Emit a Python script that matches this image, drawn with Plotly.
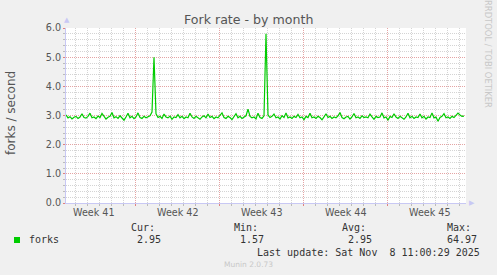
import datetime as dt
import plotly.graph_objects as go

# ---------------- data ----------------
series_name = "forks"
start_time = dt.datetime(2025, 10, 7, 5, 0)
sample_hours = 4
forks = [
    3.02, 2.92, 2.96, 2.88, 2.94, 2.97, 2.90, 2.95, 3.06, 2.93,
    2.91, 2.97, 3.08, 2.92, 2.95, 2.89, 2.98, 2.93, 3.07, 2.95,
    2.88, 2.94, 2.97, 3.10, 2.92, 2.96, 2.90, 2.99, 2.93, 2.84,
    2.95, 3.08, 2.92, 2.97, 2.89, 2.95, 3.09, 2.93, 2.90, 2.97,
    2.92, 2.95, 2.99, 3.12, 5.00, 3.06, 2.93, 2.97, 2.90, 3.05,
    2.95, 2.92, 2.98, 2.87, 2.95, 2.93, 3.03, 2.92, 2.97, 2.89,
    2.95, 2.92, 3.08, 2.95, 2.90, 2.97, 2.93, 2.87, 2.95, 2.99,
    2.92, 3.05, 2.93, 2.97, 2.89, 2.95, 2.92, 2.99, 3.09, 2.93,
    2.90, 2.97, 2.93, 2.86, 2.95, 3.06, 2.92, 2.97, 2.90, 2.95,
    2.99, 3.22, 2.97, 2.92, 2.95, 2.88, 3.08, 2.93, 2.90, 2.99,
    5.80, 3.02, 2.93, 2.97, 3.05, 2.92, 2.95, 2.88, 2.99, 2.93,
    3.09, 2.92, 2.95, 2.90, 2.97, 2.93, 3.04, 2.92, 2.95, 2.86,
    2.97, 2.93, 3.08, 2.92, 2.95, 2.90, 2.97, 2.93, 2.85, 2.95,
    3.06, 2.93, 2.97, 2.90, 2.95, 2.92, 2.99, 3.10, 2.93, 2.89,
    2.95, 2.97, 2.88, 2.95, 3.07, 2.92, 2.95, 2.90, 2.99, 2.93,
    2.95, 2.92, 3.05, 2.95, 2.87, 2.97, 2.93, 2.95, 3.09, 2.92,
    2.95, 2.84, 2.97, 2.93, 3.06, 2.95, 2.90, 2.97, 2.93, 2.87,
    2.95, 3.08, 2.92, 2.97, 2.90, 2.95, 2.93, 3.05, 2.92, 2.97,
    2.88, 2.95, 2.93, 3.09, 2.92, 2.95, 2.80, 2.93, 2.97, 3.06,
    2.92, 2.95, 2.90, 2.97, 2.93, 2.99, 3.08, 3.02, 2.97, 2.98,
]
week_starts = ["2025-10-13", "2025-10-20", "2025-10-27", "2025-11-03"]
week_labels = ["Week 41", "Week 42", "Week 43", "Week 44", "Week 45"]
week_mids = ["2025-10-09 12:00", "2025-10-16 12:00", "2025-10-23 12:00",
             "2025-10-30 12:00", "2025-11-06 12:00"]
stat_names = ["Cur:", "Min:", "Avg:", "Max:"]
stat_values = ["2.95", "1.57", "2.95", "64.97"]
last_update = "Last update: Sat Nov  8 11:00:29 2025"
title = "Fork rate - by month"
y_title = "forks / second"
y_ticks = [0, 1, 2, 3, 4, 5, 6]

times = [start_time + dt.timedelta(hours=sample_hours * i) for i in range(len(forks))]
range_end = start_time + dt.timedelta(days=400 / 12)

# ---------------- layout helpers ----------------
W, H = 497, 275
L, R, T, B = 66, 31, 28, 72
PW, PH = W - L - R, H - T - B


def px(x):
    return (x - L) / PW


def py(y):
    return (H - B - y) / PH


SANS = "DejaVu Sans"
MONO = "DejaVu Sans Mono"
GREY = "#555555"
MAJOR = "#e4a4a4"
MINOR = "#d4d4d4"
AXIS = "#c8c8f4"
DOTS = "1px,1px"

fig = go.Figure()
fig.add_trace(go.Scatter(x=times, y=forks, mode="lines",
                         line=dict(color="#00cc00", width=1.2),
                         hoverinfo="skip", name=series_name))

ann = []
for m, lab in zip(week_mids, week_labels):
    ann.append(dict(x=m, y=0, xref="x", yref="paper", text=lab, showarrow=False,
                    xanchor="center", yanchor="middle", yshift=-9,
                    font=dict(family=SANS, size=9.6, color=GREY)))
ann.append(dict(x=px(248), y=py(19), xref="paper", yref="paper", text=title,
                showarrow=False, xanchor="center", yanchor="middle",
                font=dict(family=SANS, size=12.6, color=GREY)))
ann.append(dict(x=px(11), y=py(113), xref="paper", yref="paper", text=y_title,
                showarrow=False, xanchor="center", yanchor="middle", textangle=-90,
                font=dict(family=SANS, size=12, color=GREY)))
ann.append(dict(x=px(488), y=py(54), xref="paper", yref="paper",
                text="RRDTOOL / TOBI OETIKER", showarrow=False,
                xanchor="center", yanchor="middle", textangle=90,
                font=dict(family=SANS, size=8.4, color="#c8c8c8")))
ann.append(dict(x=px(66.5), y=py(26), xref="paper", yref="paper", text="▲",
                showarrow=False, xanchor="center", yanchor="bottom",
                font=dict(family=SANS, size=7, color=AXIS)))
ann.append(dict(x=px(467), y=py(203), xref="paper", yref="paper", text="▶",
                showarrow=False, xanchor="left", yanchor="middle",
                font=dict(family=SANS, size=7, color=AXIS)))
ann.append(dict(x=px(27), y=py(239.5), xref="paper", yref="paper", text=series_name,
                showarrow=False, xanchor="left", yanchor="middle",
                font=dict(family=MONO, size=10, color="#333333")))
name_x = [142.5, 246, 353.5, 459]
val_x = [149, 252, 360, 462]
for n, v, nx, vx in zip(stat_names, stat_values, name_x, val_x):
    ann.append(dict(x=px(nx), y=py(227.5), xref="paper", yref="paper", text=n,
                    showarrow=False, xanchor="center", yanchor="middle",
                    font=dict(family=MONO, size=10, color="#333333")))
    ann.append(dict(x=px(vx), y=py(239.5), xref="paper", yref="paper", text=v,
                    showarrow=False, xanchor="center", yanchor="middle",
                    font=dict(family=MONO, size=10, color="#333333")))
ann.append(dict(x=px(482), y=py(252.5), xref="paper", yref="paper", text=last_update,
                showarrow=False, xanchor="right", yanchor="middle",
                font=dict(family=MONO, size=10, color="#333333")))
ann.append(dict(x=px(248), y=py(264), xref="paper", yref="paper", text="Munin 2.0.73",
                showarrow=False, xanchor="center", yanchor="middle",
                font=dict(family=SANS, size=7.5, color="#c8c8c8")))

shapes = [dict(type="rect", xref="paper", yref="paper",
               x0=px(14), x1=px(20), y0=py(243), y1=py(237),
               fillcolor="#00cc00", line=dict(width=0))]

fig.update_layout(
    width=W, height=H,
    margin=dict(l=L, r=R, t=T, b=B, pad=0),
    paper_bgcolor="#f0f0f0", plot_bgcolor="#ffffff",
    showlegend=False, hovermode=False,
    annotations=ann, shapes=shapes,
    xaxis=dict(
        type="date", range=[start_time, range_end],
        tickvals=week_starts, ticktext=["" for _ in week_starts],
        showgrid=True, gridcolor=MAJOR, griddash=DOTS, gridwidth=1,
        ticks="outside", ticklen=2, tickcolor="#e08080",
        showline=True, linecolor=AXIS, linewidth=1,
        zeroline=False, fixedrange=True,
        minor=dict(dtick=86400000, tick0="2025-10-13", showgrid=True,
                   gridcolor=MINOR, griddash=DOTS, gridwidth=1,
                   ticks="outside", ticklen=2, tickcolor="#bbbbbb"),
    ),
    yaxis=dict(
        range=[0, 6], tickvals=y_ticks, tickformat=".1f",
        showgrid=True, gridcolor=MAJOR, griddash=DOTS, gridwidth=1,
        ticks="outside", ticklen=2, tickcolor="#e08080",
        tickfont=dict(family=SANS, size=9.6, color=GREY),
        showline=True, linecolor=AXIS, linewidth=1,
        zeroline=False, fixedrange=True,
        minor=dict(dtick=0.2, showgrid=True, gridcolor=MINOR, griddash=DOTS,
                   gridwidth=1, ticks="outside", ticklen=2, tickcolor="#bbbbbb"),
    ),
)

fig.write_html("out.html", config={"displayModeBar": False, "staticPlot": True})
